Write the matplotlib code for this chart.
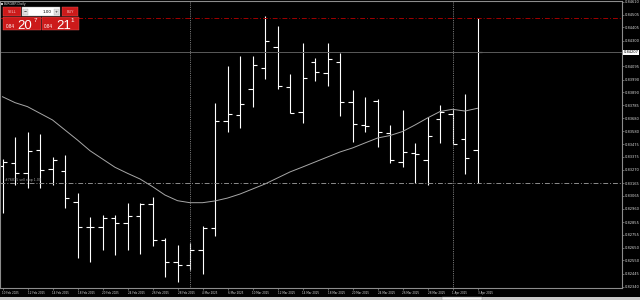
import numpy as np
import matplotlib.pyplot as plt
from matplotlib.patches import Rectangle

# EURGBP daily bars, 10 Feb - 3 Apr 2025
dates = ['10 Feb 2025', '11 Feb 2025', '12 Feb 2025', '13 Feb 2025', '14 Feb 2025',
         '17 Feb 2025', '18 Feb 2025', '19 Feb 2025', '20 Feb 2025', '21 Feb 2025',
         '24 Feb 2025', '25 Feb 2025', '26 Feb 2025', '27 Feb 2025', '28 Feb 2025',
         '3 Mar 2025', '4 Mar 2025', '5 Mar 2025', '6 Mar 2025', '7 Mar 2025',
         '10 Mar 2025', '11 Mar 2025', '12 Mar 2025', '13 Mar 2025', '14 Mar 2025',
         '17 Mar 2025', '18 Mar 2025', '19 Mar 2025', '20 Mar 2025', '21 Mar 2025',
         '24 Mar 2025', '25 Mar 2025', '26 Mar 2025', '27 Mar 2025', '28 Mar 2025',
         '31 Mar 2025', '1 Apr 2025', '2 Apr 2025', '3 Apr 2025']

opens = [0.83300, 0.83323, 0.83243, 0.83429, 0.83275, 0.83264, 0.83017, 0.82818, 0.82818, 0.82890,
         0.82850, 0.82903, 0.82996, 0.82712, 0.82537, 0.82513, 0.82632, 0.82808, 0.83660, 0.83708,
         0.83912, 0.84082, 0.84247, 0.83928, 0.83734, 0.84132, 0.84044, 0.84132, 0.83814, 0.83630,
         0.83819, 0.83562, 0.83331, 0.83403, 0.83349, 0.83676, 0.83716, 0.83519, 0.83429]
highs = [0.83355, 0.83532, 0.83575, 0.83556, 0.83373, 0.83389, 0.83086, 0.82898, 0.82911, 0.82911,
         0.83009, 0.83009, 0.83052, 0.82728, 0.82672, 0.82688, 0.82823, 0.83803, 0.84098, 0.84178,
         0.84178, 0.84496, 0.84416, 0.84034, 0.84279, 0.84159, 0.84283, 0.84204, 0.83907, 0.83849,
         0.83837, 0.83628, 0.83747, 0.83487, 0.83689, 0.83787, 0.83753, 0.83875, 0.84478]
lows = [0.82927, 0.83150, 0.83124, 0.83126, 0.83150, 0.82967, 0.82569, 0.82537, 0.82632, 0.82592,
        0.82632, 0.82600, 0.82664, 0.82417, 0.82380, 0.82473, 0.82441, 0.82744, 0.83575, 0.83602,
        0.83769, 0.83994, 0.83912, 0.83721, 0.83646, 0.83978, 0.83939, 0.83700, 0.83495, 0.83575,
        0.83455, 0.83328, 0.83291, 0.83168, 0.83148, 0.83487, 0.83477, 0.83238, 0.83168]
closes = [0.83336, 0.83243, 0.83421, 0.83269, 0.83349, 0.83044, 0.82818, 0.82812, 0.82890, 0.82850,
          0.82903, 0.82996, 0.82712, 0.82537, 0.82513, 0.82632, 0.82808, 0.83662, 0.83713, 0.83798,
          0.84106, 0.84299, 0.83939, 0.83726, 0.84005, 0.84052, 0.84156, 0.83811, 0.83636, 0.83622,
          0.83570, 0.83349, 0.83415, 0.83395, 0.83540, 0.83734, 0.83477, 0.83367, 0.84207]
ma = [0.83853, 0.83806, 0.83774, 0.83721, 0.83668, 0.83588, 0.83508, 0.83423, 0.83357, 0.83291,
      0.83243, 0.83198, 0.83137, 0.83070, 0.83025, 0.83009, 0.83009, 0.83023, 0.83046, 0.83078,
      0.83118, 0.83158, 0.83206, 0.83254, 0.83293, 0.83333, 0.83373, 0.83413, 0.83445, 0.83485,
      0.83524, 0.83544, 0.83576, 0.83628, 0.83684, 0.83735, 0.83753, 0.83739, 0.83761]

price_ticks = [0.84610, 0.84505, 0.84405, 0.84300, 0.84095, 0.83990, 0.83890, 0.83785, 0.83680,
               0.83580, 0.83475, 0.83375, 0.83270, 0.83165, 0.83065, 0.82960, 0.82855, 0.82755,
               0.82650, 0.82550, 0.82445, 0.82340]

bid = 0.84207
order_level = 0.84478
sell_stop = 0.83168
sell_stop_text = '#76875 sell stop 1.00'

BG = 'black'
GRID = '#8c8c8c'
TXT = '#d8d8d8'

fig = plt.figure(figsize=(6.4, 3.0), dpi=100, facecolor=BG)
ax = fig.add_axes([0, 1 - 288.3 / 300, 621.7 / 640, 287.3 / 300], facecolor=BG)

x = np.arange(len(dates))
w = 0.33
ax.vlines(x, lows, highs, color='white', lw=0.8)
ax.hlines(opens, x - w, x, color='white', lw=0.8)
ax.hlines(closes, x, x + w, color='white', lw=0.8)
ax.plot(x, ma, color='#a8a8a8', lw=0.7)

# price levels
ax.axhline(order_level, color='#a00000', lw=0.7, ls=(0, (5, 2, 1, 2)))
ax.axhline(bid, color='#5a5a5a', lw=0.7)
ax.axhline(sell_stop, color='#8c8c8c', lw=0.7, ls=(0, (5, 2, 1, 2)))
ax.text(0.2, sell_stop + 0.00008, sell_stop_text, color='#a0a0a0', fontsize=2.3, va='bottom')

# month separators
months = [d.split()[1] for d in dates]
for i in range(1, len(dates)):
  if months[i] != months[i - 1]:
    ax.axvline(i, color='#9a9a9a', lw=0.6, ls=(0, (1, 1.2)))

ax.set_xlim(-0.2, (621.7 - 2.5) / 12.5)
ax.set_ylim(0.846235 - 0.00007965 * 288.3, 0.846235 - 0.00007965 * 1)

for s in ax.spines.values():
  s.set_color(GRID)
  s.set_linewidth(0.8)

ax.yaxis.tick_right()
ax.set_yticks(price_ticks)
ax.set_yticklabels(['%.5f' % v for v in price_ticks])
ax.tick_params(axis='y', direction='out', length=1.5, width=0.5, color=GRID,
               labelsize=2.6, labelcolor=TXT, pad=0.6)
ax.set_xticks(x[::2])
ax.set_xticklabels(dates[::2], ha='left')
ax.tick_params(axis='x', direction='out', length=1.2, width=0.5, color=GRID,
               labelsize=2.0, labelcolor=TXT, pad=0.8)

# current price tag on the scale
ax.annotate('%.5f' % bid, xy=(1.0, bid), xycoords=('axes fraction', 'data'),
            xytext=(1.5, 0), textcoords='offset points', va='center', ha='left',
            fontsize=2.6, color='black',
            bbox=dict(boxstyle='square,pad=0.15', fc='white', ec='white', lw=0))

# overlay in pixel coordinates for the trade panel and tab bar
ov = fig.add_axes([0, 0, 1, 1], zorder=5)
ov.set_xlim(0, 640)
ov.set_ylim(300, 0)
ov.axis('off')
ov.patch.set_alpha(0)

ov.add_patch(Rectangle((1, 2.5), 1.8, 2, fc='#c0c0c0', ec='none'))
ov.text(4, 4, 'EURGBP,Daily', color=TXT, fontsize=2.3, va='center', ha='left')

RED = '#cc1a1a'
ov.add_patch(Rectangle((3.3, 7.3), 17.4, 8.7, fc=RED, ec='#e45a5a', lw=0.3))
ov.text(12, 11.8, 'SELL', color='#f4caca', fontsize=2.6, ha='center', va='center')
ov.add_patch(Rectangle((21.7, 7.3), 38.3, 8.7, fc='white', ec='#9a9a9a', lw=0.3))
ov.add_patch(Rectangle((23, 8.6), 5, 6, fc='#e0e0e0', ec='#9a9a9a', lw=0.2))
ov.add_patch(Rectangle((53.7, 8.6), 5, 6, fc='#e0e0e0', ec='#9a9a9a', lw=0.2))
ov.text(25.5, 11.6, '−', color='black', fontsize=2.6, ha='center', va='center')
ov.text(56.2, 11.6, '+', color='black', fontsize=2.6, ha='center', va='center')
ov.text(52, 11.8, '1.00', color='black', fontsize=3, ha='right', va='center')
ov.add_patch(Rectangle((61.7, 7.3), 16.6, 8.7, fc=RED, ec='#e45a5a', lw=0.3))
ov.text(70, 11.8, 'BUY', color='#f4caca', fontsize=2.6, ha='center', va='center')

ov.add_patch(Rectangle((3.3, 16.7), 37.7, 13.3, fc=RED, ec='#e45a5a', lw=0.3))
ov.add_patch(Rectangle((41.7, 16.7), 37.3, 13.3, fc=RED, ec='#e45a5a', lw=0.3))
lf = 'Liberation Sans'
ov.text(6, 27.5, '0.84', color='white', fontsize=3.3, family=lf)
ov.text(17.5, 29.3, '20', color='white', fontsize=9.5, family=lf)
ov.text(33.2, 18.5, '7', color='white', fontsize=4.5, family=lf, va='top')
ov.text(44.3, 27.5, '0.84', color='white', fontsize=3.3, family=lf)
ov.text(56.3, 29.3, '21', color='white', fontsize=9.5, family=lf)
ov.text(70.5, 18.5, '1', color='white', fontsize=4.5, family=lf, va='top')

# terminal tab bar at the bottom
ov.add_patch(Rectangle((0, 297), 640, 3, fc='#c8c8c8', ec='none'))
ov.add_patch(Rectangle((442, 296.5), 40, 3.5, fc='#f0f0f0', ec='#909090', lw=0.3))

fig.savefig('out.png', dpi=100, facecolor=BG)
